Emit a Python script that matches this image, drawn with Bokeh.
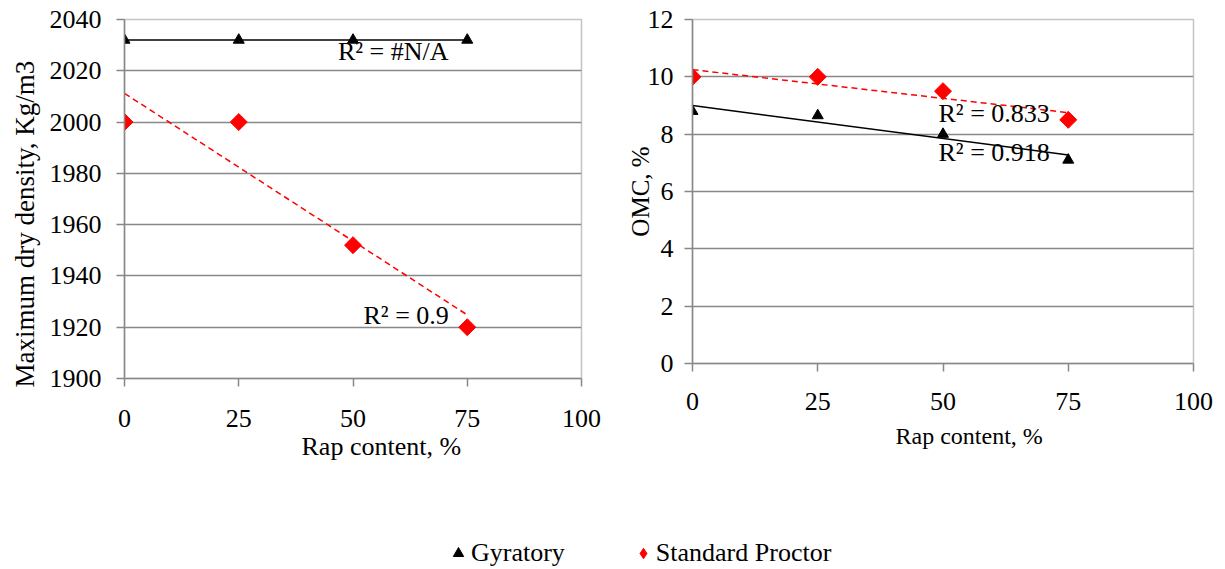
import numpy as np
from bokeh.plotting import figure
from bokeh.layouts import column, row
from bokeh.models import Range1d, FixedTicker, Label, Legend, LegendItem, Title
from bokeh.embed import file_html
from bokeh.resources import INLINE

# ---------------- data ----------------
rap_content = [0, 25, 50, 75]
mdd_gyratory = [2032, 2032, 2032, 2032]
mdd_proctor = [2000, 2000, 1952, 1920]
omc_gyratory = [8.8, 8.65, 8.0, 7.1]
omc_proctor = [10.0, 10.0, 9.5, 8.5]
x_ticks = [0, 25, 50, 75, 100]
mdd_ticks = [1900, 1920, 1940, 1960, 1980, 2000, 2020, 2040]
omc_ticks = [0, 2, 4, 6, 8, 10, 12]
series_names = ["Gyratory", "Standard Proctor"]
mdd_r2 = ["R² = #N/A", "R² = 0.9"]
omc_r2 = ["R² = 0.918", "R² = 0.833"]
x_title = "Rap content, %"
mdd_title = "Maximum dry density, Kg/m3"
omc_title = "OMC, %"

FONT = "Liberation Serif"
GRID = "#888888"
RED = "#ff0000"


def trend(xs, ys):
    slope, intercept = np.polyfit(xs, ys, 1)
    x0, x1 = min(xs), max(xs)
    return [x0, x1], [intercept + slope * x0, intercept + slope * x1]


def style(p, yticks, xl_stand, yl_stand):
    p.xgrid.visible = False
    p.ygrid.grid_line_color = GRID
    p.ygrid.grid_line_width = 1.5
    p.ygrid.ticker = FixedTicker(ticks=yticks)
    p.outline_line_color = "#c4c4c4"
    p.outline_line_width = 1.5
    p.xaxis.ticker = FixedTicker(ticks=x_ticks)
    p.yaxis.ticker = FixedTicker(ticks=yticks)
    for ax in (p.xaxis, p.yaxis):
        ax.axis_line_color = GRID
        ax.axis_line_width = 1.5
        ax.major_tick_line_color = GRID
        ax.major_tick_line_width = 1.5
        ax.major_tick_out = 8
        ax.major_tick_in = 0
        ax.minor_tick_line_color = None
        ax.major_label_text_font = FONT
        ax.major_label_text_font_size = "26px"
        ax.major_label_text_color = "black"
        ax.axis_label_text_font = FONT
        ax.axis_label_text_font_style = "normal"
        ax.axis_label_text_color = "black"
    p.xaxis.major_label_standoff = xl_stand
    p.yaxis.major_label_standoff = yl_stand


def add_label(p, x, y, text):
    p.add_layout(Label(x=x, y=y, text=text, text_font=FONT, text_font_size="26px",
                       text_color="black", text_baseline="alphabetic", text_align="left"))


def add_title(p, side, text, size, offset, standoff):
    p.add_layout(Title(text=text, align="left", offset=offset, standoff=standoff,
                       text_font=FONT, text_font_size=size, text_font_style="normal",
                       text_color="black"), side)


# ---------------- left: maximum dry density ----------------
p1 = figure(width=615, height=480, output_backend="svg", toolbar_location=None,
            x_range=Range1d(0, 100), y_range=Range1d(1900, 2040),
            min_border_left=123, min_border_right=34, min_border_top=19, min_border_bottom=102,
            background_fill_color="white", border_fill_color="white")
style(p1, mdd_ticks, 23, 15)

tx, ty = trend(rap_content, mdd_gyratory)
p1.line(tx, ty, line_color="black", line_width=1.5)
tx, ty = trend(rap_content, mdd_proctor)
p1.line(tx, ty, line_color=RED, line_width=1.5, line_dash="6 4")
p1.scatter(rap_content, mdd_gyratory, marker="triangle", size=11, fill_color="black", line_color="black")
p1.scatter(rap_content, mdd_proctor, marker="square", angle=np.pi / 4, size=12,
           fill_color=RED, line_color=RED)
add_label(p1, 46.7, 2027.5, mdd_r2[0])
add_label(p1, 52.3, 1924.4, mdd_r2[1])
add_title(p1, "below", x_title, "26px", 177, 0)
add_title(p1, "left", mdd_title, "27px", -9, 14)

# ---------------- right: OMC ----------------
p2 = figure(width=610, height=465, output_backend="svg", toolbar_location=None,
            x_range=Range1d(0, 100), y_range=Range1d(0, 12),
            min_border_left=77, min_border_right=32, min_border_top=19, min_border_bottom=102,
            background_fill_color="white", border_fill_color="white")
style(p2, omc_ticks, 21, 11)
p2.yaxis.axis_label = omc_title
p2.yaxis.axis_label_text_font_size = "25px"
p2.yaxis.axis_label_standoff = -9

tx, ty = trend(rap_content, omc_gyratory)
p2.line(tx, ty, line_color="black", line_width=1.5)
tx, ty = trend(rap_content, omc_proctor)
p2.line(tx, ty, line_color=RED, line_width=1.5, line_dash="6 4")
p2.scatter(rap_content, omc_gyratory, marker="triangle", size=11, fill_color="black", line_color="black")
p2.scatter(rap_content, omc_proctor, marker="square", angle=np.pi / 4, size=12,
           fill_color=RED, line_color=RED)
add_label(p2, 49.1, 8.72, omc_r2[1])
add_label(p2, 49.1, 7.36, omc_r2[0])
add_title(p2, "below", x_title, "24px", 203, 17)

# ---------------- legend strip ----------------
# legend renderers reuse the series data; the ranges keep those points off the strip
p3 = figure(width=1225, height=89, output_backend="svg", toolbar_location=None,
            x_range=Range1d(0, 1), y_range=Range1d(0, 1), x_axis_type=None, y_axis_type=None,
            min_border=0, outline_line_color=None,
            background_fill_color="white", border_fill_color="white")
r_g = p3.scatter(rap_content, mdd_gyratory, marker="triangle", fill_color="black", line_color="black")
r_p = p3.scatter(rap_content, mdd_proctor, marker="diamond", fill_color=RED, line_color=RED)
legend = Legend(items=[LegendItem(label=series_names[0], renderers=[r_g]),
                       LegendItem(label=series_names[1], renderers=[r_p])],
                orientation="horizontal", location=(445, 1),
                glyph_width=26, glyph_height=26, label_standoff=-1, spacing=65,
                padding=0, margin=0, border_line_color=None, background_fill_alpha=0,
                label_text_font=FONT, label_text_font_size="26px", label_text_color="black")
p3.add_layout(legend, "center")

layout = column(row(p1, p2), p3)
open("out.html", "w").write(file_html(layout, INLINE))
